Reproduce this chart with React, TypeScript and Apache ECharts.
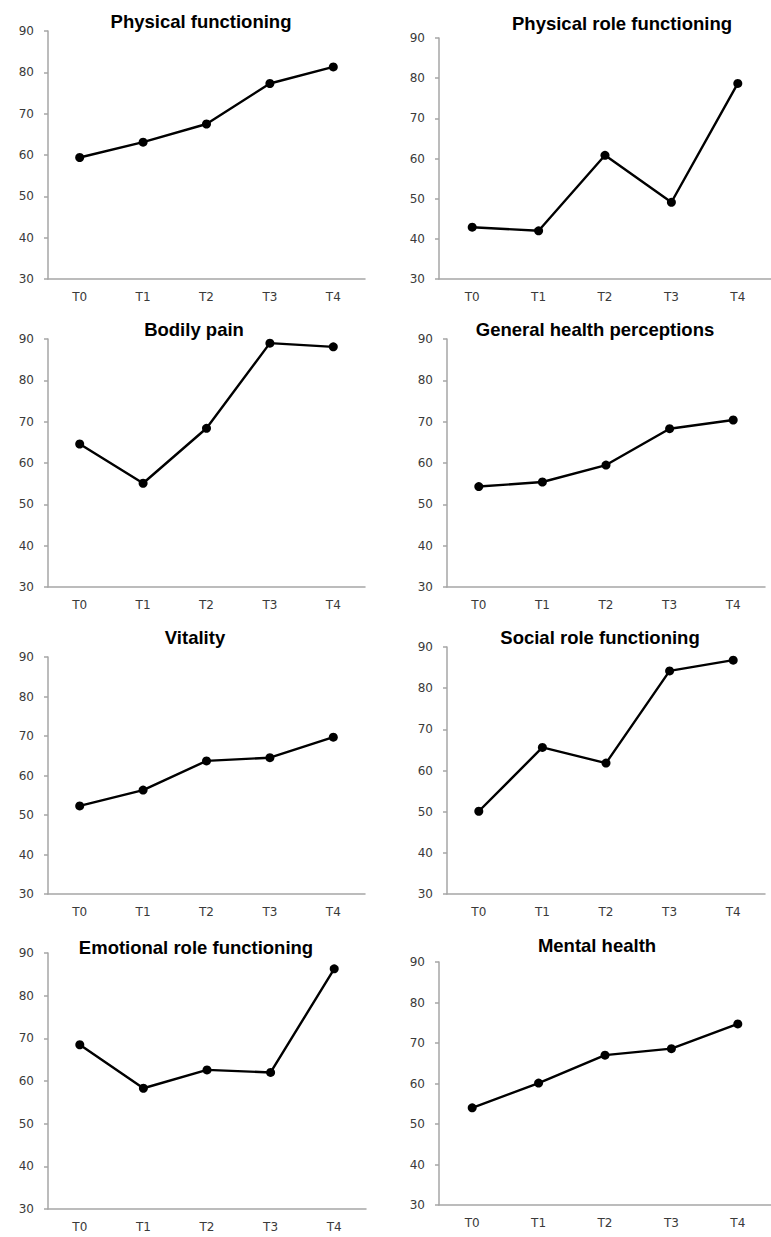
import React, { useEffect, useRef } from "react";
import * as echarts from "echarts";

const categories = ["T0", "T1", "T2", "T3", "T4"];
const physicalFunctioning = [59.4, 63.1, 67.5, 77.3, 81.3];
const physicalRoleFunctioning = [42.9, 42.0, 60.8, 49.1, 78.7];
const bodilyPain = [64.6, 55.1, 68.4, 89.0, 88.1];
const generalHealthPerceptions = [54.3, 55.4, 59.5, 68.3, 70.4];
const vitality = [52.3, 56.3, 63.7, 64.5, 69.7];
const socialRoleFunctioning = [50.1, 65.6, 61.8, 84.2, 86.8];
const emotionalRoleFunctioning = [68.5, 58.3, 62.6, 62.0, 86.3];
const mentalHealth = [54.0, 60.1, 67.0, 68.6, 74.7];
const yTicks = { min: 30, max: 90, interval: 10 };

const panels = [
  { title: "Physical functioning", data: physicalFunctioning, grid: [48, 31, 317, 248], t: [201, 21] },
  { title: "Physical role functioning", data: physicalRoleFunctioning, grid: [439, 38, 332, 241], t: [622, 23] },
  { title: "Bodily pain", data: bodilyPain, grid: [48, 339, 317, 248], t: [194, 329] },
  { title: "General health perceptions", data: generalHealthPerceptions, grid: [447, 339, 318, 248], t: [595, 329] },
  { title: "Vitality", data: vitality, grid: [48, 657, 317, 237], t: [195, 637] },
  { title: "Social role functioning", data: socialRoleFunctioning, grid: [447, 647, 318, 247], t: [600, 637] },
  { title: "Emotional role functioning", data: emotionalRoleFunctioning, grid: [48, 953, 318, 256], t: [196, 947] },
  { title: "Mental health", data: mentalHealth, grid: [439, 962, 332, 243], t: [597, 945] },
];

export default function App() {
  const ref = useRef<HTMLDivElement>(null);
  useEffect(() => {
    if (!ref.current) return;
    const chart = echarts.init(ref.current, undefined, { renderer: "svg" });
    const axisColor = "#a6a6a6";
    const labelColor = "#3a3a3a";
    const option: any = {
      animation: false,
      backgroundColor: "#ffffff",
      grid: panels.map((p) => ({
        left: p.grid[0],
        top: p.grid[1],
        width: p.grid[2],
        height: p.grid[3],
        containLabel: false,
      })),
      xAxis: panels.map((p, i) => ({
        type: "category",
        gridIndex: i,
        data: categories,
        boundaryGap: true,
        axisLine: { lineStyle: { color: axisColor, width: 1.5 } },
        axisTick: { show: false },
        axisLabel: { color: labelColor, fontSize: 12, fontFamily: "DejaVu Sans", margin: 12 },
        splitLine: { show: false },
      })),
      yAxis: panels.map((p, i) => ({
        type: "value",
        gridIndex: i,
        min: yTicks.min,
        max: yTicks.max,
        interval: yTicks.interval,
        axisLine: { show: true, lineStyle: { color: axisColor, width: 1.5 } },
        axisTick: { show: true, length: 4, lineStyle: { color: axisColor, width: 1.5 } },
        axisLabel: { color: labelColor, fontSize: 12, fontFamily: "DejaVu Sans", margin: 14 },
        splitLine: { show: false },
      })),
      series: panels.map((p, i) => ({
        type: "line",
        name: p.title,
        xAxisIndex: i,
        yAxisIndex: i,
        data: p.data,
        symbol: "circle",
        symbolSize: 9,
        itemStyle: { color: "#000000" },
        lineStyle: { color: "#000000", width: 2.4 },
      })),
      graphic: panels.map((p) => ({
        type: "text",
        x: p.t[0],
        y: p.t[1],
        style: {
          text: p.title,
          fill: "#000000",
          font: "bold 18.5px 'Liberation Sans', Arial, sans-serif",
          textAlign: "center",
          textVerticalAlign: "middle",
        },
      })),
    };
    chart.setOption(option);
    return () => chart.dispose();
  }, []);
  return (
    <div
      ref={ref}
      style={{ position: "absolute", left: 0, top: 0, width: 771, height: 1237 }}
    />
  );
}
